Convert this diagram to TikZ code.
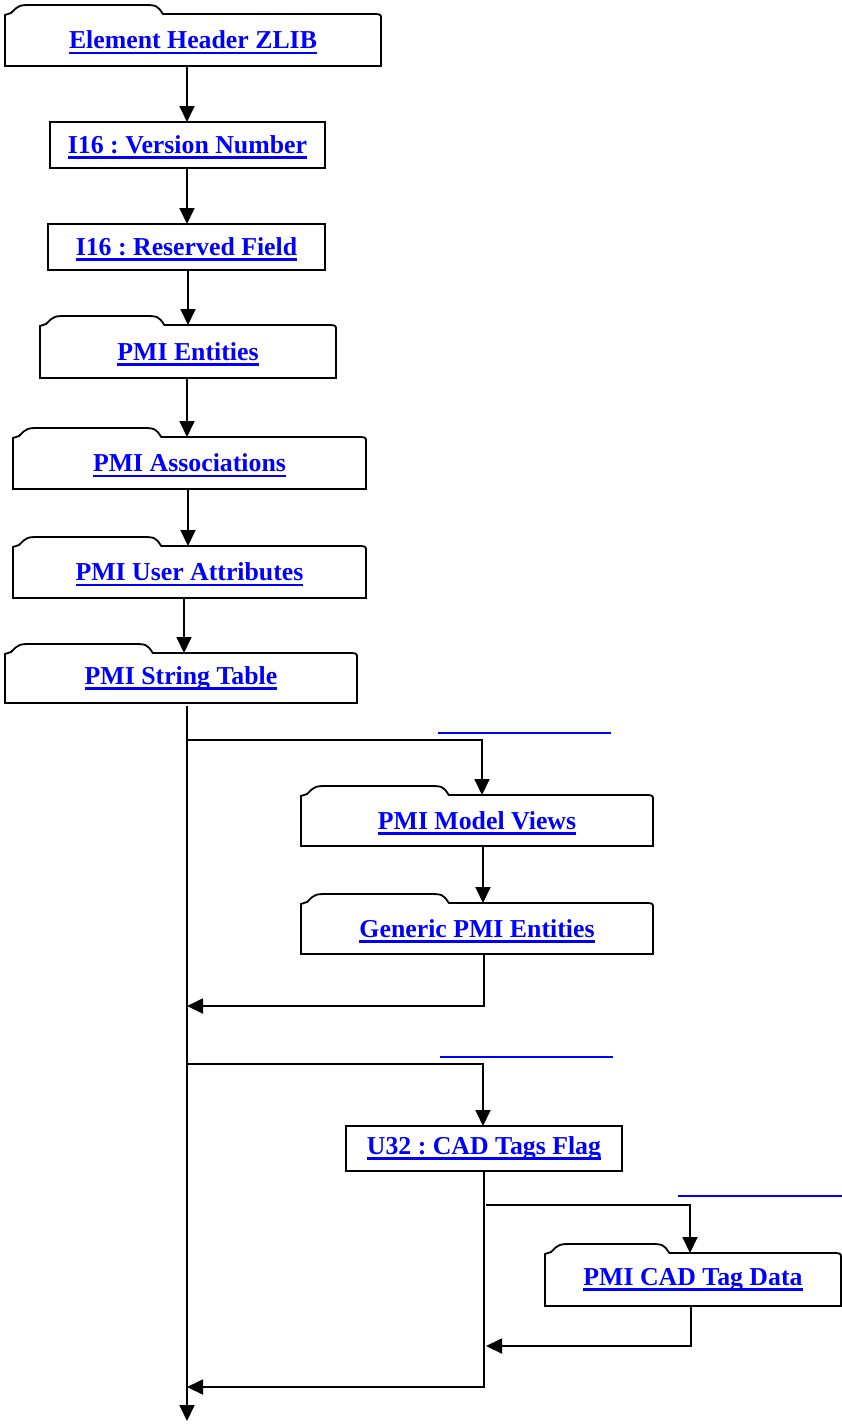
\documentclass[tikz,border=0pt]{standalone}
\usepackage{fontspec}
\setmainfont{Liberation Serif}
\usetikzlibrary{arrows.meta,calc}
\definecolor{cLink}{HTML}{0000FF}
\frenchspacing
\newcommand{\lnk}[1]{\setbox0\hbox{#1}\rlap{\smash{\rule[-5.5pt]{\wd0}{2.8pt}}}\box0}
\tikzset{
  rbox/.style={align=center, font=\fontsize{25.8}{30}\selectfont\bfseries,
    text=cLink, inner sep=0pt, outer sep=0pt},
  plainbox/.style={rbox, draw, line width=1.8pt},
  folder/.style={rbox},
  flow/.style={-{Triangle[length=16pt,width=15pt]}, line width=1.8pt},
  wire/.style={line width=1.8pt},
  blank/.style={draw=cLink, line width=2.6pt},
}
% folder outline drawn round the body of a node
\newcommand{\foldertab}[1]{%
  \draw[wire] let \p1=(#1.north west), \p2=(#1.south east), \n1={0.42*(\x2-\x1)} in
    (\x1,\y2) -- (\x1,\y1-1pt) -- (\x1+6pt,\y1+1pt)
    .. controls (\x1+14pt,\y1+9pt) .. (\x1+28pt,\y1+9pt)
    -- (\x1+\n1-22pt,\y1+9pt) .. controls (\x1+\n1-6pt,\y1+9pt) .. (\x1+\n1,\y1)
    -- (\x2-10pt,\y1) .. controls (\x2,\y1) .. (\x2,\y1-5pt) -- (\x2,\y2) -- cycle;}

\begin{document}
\begin{tikzpicture}[x=1pt, y=-1pt]
  \useasboundingbox (0,0) rectangle (842,1425);
  % main column
  \node[folder, minimum width=376pt, minimum height=52pt] (hdr) at (193,40) {\lnk{Element Header ZLIB}};
  \node[plainbox, minimum width=275pt, minimum height=46pt] (ver) at (187.5,145) {\lnk{I16 : Version Number}};
  \node[plainbox, minimum width=277pt, minimum height=46pt] (res) at (186.5,247) {\lnk{I16 : Reserved Field}};
  \node[folder, minimum width=296pt, minimum height=53pt] (ent) at (188,351.5) {\lnk{PMI Entities}};
  \node[folder, minimum width=353pt, minimum height=52pt] (asc) at (189.5,463) {\lnk{PMI Associations}};
  \node[folder, minimum width=353pt, minimum height=52pt] (usr) at (189.5,572) {\lnk{PMI User Attributes}};
  \node[folder, minimum width=352pt, minimum height=50pt] (str) at (181,678) {\lnk{PMI String Table}};
  % right column
  \node[folder, minimum width=352pt, minimum height=51pt] (views) at (477,820.5) {\lnk{PMI Model Views}};
  \node[folder, minimum width=352pt, minimum height=51pt] (gen) at (477,928.5) {\lnk{Generic PMI Entities}};
  \node[plainbox, minimum width=276pt, minimum height=45pt] (cad) at (484,1148.5) {\lnk{U32 : CAD Tags Flag}};
  \node[folder, minimum width=296pt, minimum height=53pt] (tag) at (693,1279.5) {\lnk{PMI CAD Tag Data}};
  \foreach \fld in {hdr,ent,asc,usr,str,views,gen,tag} {\foldertab{\fld}}

  \draw[flow] ([xshift=-0.5pt]hdr.south -| ver.north) -- ([xshift=-0.5pt]ver.north);
  \draw[flow] ([xshift=-0.5pt]ver.south) -- ([xshift=-0.5pt]ver.south |- res.north);
  \draw[flow] ([xshift=1.5pt]res.south) -- ([xshift=1.5pt]res.south |- ent.north);
  \draw[flow] ([xshift=-1pt]ent.south) -- ([xshift=-1pt]ent.south |- asc.north);
  \draw[flow] ([xshift=-1.5pt]asc.south) -- ([xshift=-1.5pt]asc.south |- usr.north);
  \draw[flow] ([xshift=-5.5pt]usr.south) -- ([xshift=-5.5pt]usr.south |- str.north);

  % spine and branches
  \coordinate (top) at (187,706);
  \coordinate (bottom) at (187,1421);
  \coordinate (fork1) at (187,740);
  \coordinate (join1) at (187,1006);
  \coordinate (fork2) at (187,1064);
  \coordinate (join2) at (187,1387);
  \coordinate (fork3) at (486,1205);
  \coordinate (join3) at (486,1346);
  \draw[flow] (top) -- (bottom);
  \draw[flow] (fork1) -| ([xshift=5pt]views.north);
  \draw[flow] ([xshift=6pt]views.south) -- ([xshift=6pt]gen.north);
  \draw[flow] ([xshift=7pt]gen.south) |- (join1);
  \draw[flow] (fork2) -| ([xshift=-1pt]cad.north);
  \draw[flow] (cad.south) |- (join2);
  \draw[flow] (fork3) -| ([xshift=-3pt]tag.north);
  \draw[flow] ([xshift=-2pt]tag.south) |- (join3);

  % empty link underlines
  \draw[blank] (438,733) -- (611,733);
  \draw[blank] (440,1057) -- (613,1057);
  \draw[blank] (678,1196) -- (842,1196);
\end{tikzpicture}
\end{document}
